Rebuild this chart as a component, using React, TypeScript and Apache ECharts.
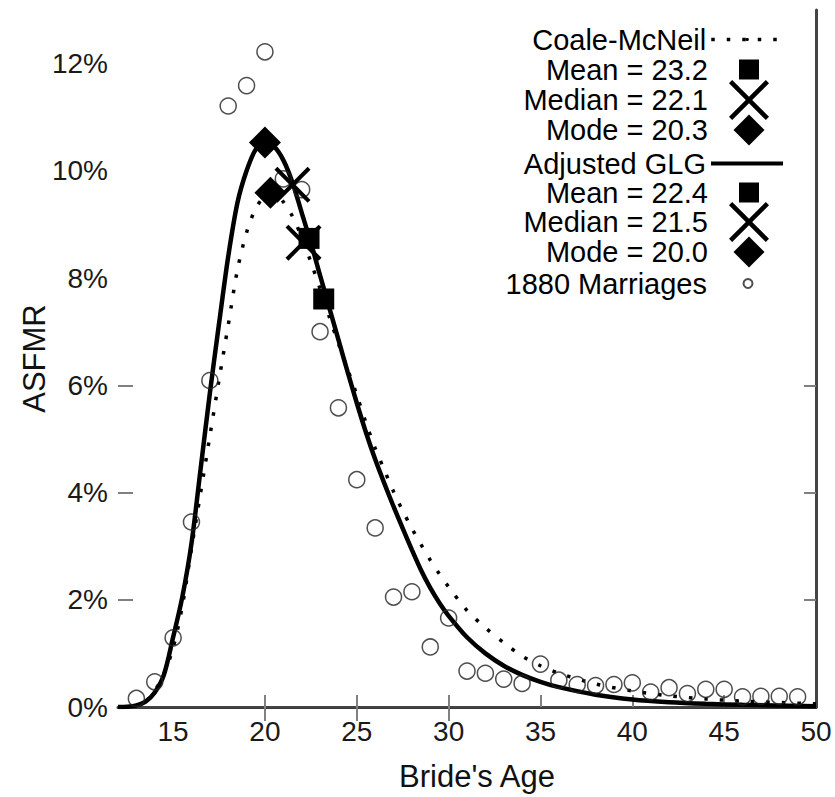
import React, { useEffect, useRef } from "react";
import * as echarts from "echarts";

// Coale-McNeil fitted curve (age, ASFMR %)
const cmAges = [12, 12.5, 13, 13.5, 14, 14.5, 15, 15.5, 16, 16.5, 17, 17.5, 18, 18.5, 19, 19.5, 20, 20.5, 21, 21.5, 22, 22.5, 23, 23.5, 24, 24.5, 25, 25.5, 26, 26.5, 27, 27.5, 28, 28.5, 29, 29.5, 30, 31, 32, 33, 34, 35, 36, 38, 40, 42, 44, 46, 50];
const cmValues = [0, 0.0, 0.02, 0.1, 0.3, 0.62, 1.1, 1.88, 2.95, 4.0, 5.05, 6.1, 7.12, 8.15, 8.85, 9.3, 9.53, 9.58, 9.42, 9.15, 8.76, 8.3, 7.8, 7.28, 6.78, 6.3, 5.82, 5.3, 4.83, 4.42, 4.02, 3.66, 3.33, 3.03, 2.74, 2.48, 2.24, 1.8, 1.48, 1.2, 0.95, 0.77, 0.63, 0.43, 0.3, 0.21, 0.15, 0.11, 0.06];

// Adjusted GLG fitted curve (age, ASFMR %)
const glgAges = [12, 12.5, 13, 13.5, 14, 14.5, 15, 15.5, 16, 16.5, 17, 17.5, 18, 18.5, 19, 19.5, 20, 20.5, 21, 21.5, 22, 22.5, 23, 23.5, 24, 24.5, 25, 25.5, 26, 26.5, 27, 27.5, 28, 28.5, 29, 29.5, 30, 31, 32, 33, 34, 35, 36, 38, 40, 42, 44, 46, 50];
const glgValues = [0, 0.005, 0.03, 0.1, 0.27, 0.6, 1.3, 2.05, 3.05, 4.45, 5.85, 7.15, 8.4, 9.4, 10.0, 10.4, 10.53, 10.45, 10.2, 9.78, 9.22, 8.66, 8.05, 7.45, 6.85, 6.25, 5.67, 5.12, 4.62, 4.17, 3.74, 3.33, 2.93, 2.55, 2.22, 1.94, 1.7, 1.3, 1.0, 0.77, 0.6, 0.47, 0.37, 0.23, 0.14, 0.09, 0.06, 0.04, 0.015];

// 1880 marriages, observed ASFMR (%) by single year of age
const obsAges = [13, 14, 15, 16, 17, 18, 19, 20, 21, 22, 23, 24, 25, 26, 27, 28, 29, 30, 31, 32, 33, 34, 35, 36, 37, 38, 39, 40, 41, 42, 43, 44, 45, 46, 47, 48, 49];
const obsValues = [0.16, 0.47, 1.29, 3.45, 6.09, 11.21, 11.59, 12.22, 9.85, 9.65, 7.0, 5.58, 4.24, 3.34, 2.05, 2.15, 1.12, 1.66, 0.67, 0.63, 0.52, 0.44, 0.8, 0.5, 0.42, 0.4, 0.42, 0.45, 0.28, 0.36, 0.25, 0.33, 0.33, 0.19, 0.2, 0.2, 0.19];

// Summary statistics: [mean, median, mode] ages and curve heights
const statNamesCM = ["Mean = 23.2", "Median = 22.1", "Mode = 20.3"];
const statAgesCM = [23.2, 22.1, 20.3];
const statValuesCM = [7.61, 8.66, 9.59];
const statNamesGLG = ["Mean = 22.4", "Median = 21.5", "Mode = 20.0"];
const statAgesGLG = [22.4, 21.5, 20.0];
const statValuesGLG = [8.74, 9.74, 10.53];

const xTickLabels = [15, 20, 25, 30, 35, 40, 45, 50];
const yTickLabels = [0, 2, 4, 6, 8, 10, 12];

const FONT = "'Liberation Sans', Arial, sans-serif";
const X_PATH = "path://M0,8L8,0L50,42L92,0L100,8L58,50L100,92L92,100L50,58L8,100L0,92L42,50Z";
const SQUARE_PATH = "path://M0,0L100,0L100,100L0,100Z";
const DIAMOND_PATH = "path://M50,0L100,50L50,100L0,50Z";
const statSymbols = [SQUARE_PATH, X_PATH, DIAMOND_PATH];
const statSizes = [21, 36, 32];

export default function App() {
  const ref = useRef<HTMLDivElement>(null);
  useEffect(() => {
    document.body.style.margin = "0";
    const chart = echarts.init(ref.current!, null, { renderer: "svg" });

    const statSeries = (names: string[], ages: number[], vals: number[]) =>
      names.map((n, i) => ({
        type: "scatter",
        name: n,
        data: [[ages[i], vals[i]]],
        symbol: statSymbols[i],
        symbolSize: statSizes[i],
        symbolKeepAspect: true,
        itemStyle: { color: "#000", opacity: 1 },
        z: 5,
        silent: true,
      }));

    // legend layout: icon box spans iconLeft .. iconLeft + itemW
    const iconLeft = 713;
    const itemW = 72;
    const textH = 28;
    // name, centre y, icon height, legend line width, isLine
    const legendRows: [string, number, number, number, boolean][] = [
      ["Coale-McNeil", 39, 4, 3.5, true],
      ["Mean = 23.2", 69, 20, 0, false],
      ["Median = 22.1", 100, 40, 0, false],
      ["Mode = 20.3", 130, 31, 0, false],
      ["Adjusted GLG", 163, 4, 4, true],
      ["Mean = 22.4", 192, 20, 0, false],
      ["Median = 21.5", 222, 40, 0, false],
      ["Mode = 20.0", 252, 31, 0, false],
      ["1880 Marriages", 283, 9, 0, false],
    ];
    const legends = legendRows.map(([name, cy, ih, lw, isLine]) => {
      const boxRight = isLine ? iconLeft + itemW : iconLeft + itemW / 2 + ih / 2;
      return {
        data: [name],
        orient: "vertical",
        align: "right",
        right: 835 - boxRight,
        top: cy - Math.max(ih, textH) / 2,
        itemWidth: itemW,
        itemHeight: ih,
        padding: 0,
        selectedMode: false,
        symbolKeepAspect: true,
        ...(lw > 0 ? { lineStyle: { width: lw } } : {}),
        textStyle: { fontSize: 29, lineHeight: textH, color: "#000", fontFamily: FONT },
      };
    });

    chart.setOption({
      animation: false,
      backgroundColor: "#fff",
      grid: { left: 118, right: 19, top: 10, bottom: 90 },
      legend: legends,
      xAxis: [
        {
          type: "value",
          min: 12,
          max: 50,
          position: "bottom",
          name: "Bride's Age",
          nameLocation: "middle",
          nameGap: 54,
          nameMoveOverlap: false,
          nameTextStyle: { fontSize: 31, color: "#111", fontFamily: FONT, padding: [0, 0, 0, 20] },
          axisLine: { show: true, lineStyle: { color: "#3a3a3a", width: 3 } },
          axisTick: { show: true, inside: true, length: 12, customValues: [20, 25, 30, 35, 40, 45], lineStyle: { color: "#808080", width: 2 } },
          axisLabel: { customValues: xTickLabels, fontSize: 28, color: "#1a1a1a", fontFamily: FONT, margin: 10 },
          splitLine: { show: false },
        },
        {
          type: "value",
          min: 12,
          max: 50,
          position: "top",
          axisLine: { show: true, lineStyle: { color: "#444", width: 2 } },
          axisTick: { show: true, inside: true, length: 14, customValues: [20, 25, 30], lineStyle: { color: "#808080", width: 2 } },
          axisLabel: { show: false },
          splitLine: { show: false },
        },
      ],
      yAxis: [
        {
          type: "value",
          min: 0,
          max: 13,
          position: "left",
          name: "ASFMR",
          nameLocation: "middle",
          nameGap: 68,
          nameMoveOverlap: false,
          nameRotate: 90,
          nameTextStyle: { fontSize: 31, color: "#111", fontFamily: FONT },
          axisLine: { show: false },
          axisTick: { show: true, inside: true, length: 15, customValues: [2, 4, 6], lineStyle: { color: "#808080", width: 2 } },
          axisLabel: { customValues: yTickLabels, formatter: "{value}%", fontSize: 28, color: "#1a1a1a", fontFamily: FONT, margin: 10 },
          splitLine: { show: false },
        },
        {
          type: "value",
          min: 0,
          max: 13,
          position: "right",
          axisLine: { show: true, lineStyle: { color: "#444", width: 3 } },
          axisTick: { show: true, inside: true, length: 12, customValues: [2, 4, 6], lineStyle: { color: "#808080", width: 2 } },
          axisLabel: { show: false },
          splitLine: { show: false },
        },
      ],
      series: [
        {
          type: "line",
          name: "Coale-McNeil",
          data: cmAges.map((a, i) => [a, cmValues[i]]),
          smooth: 0.3,
          symbol: "none",
          lineStyle: { color: "#000", width: 3.5, type: [3.5, 12] },
          itemStyle: { color: "#000" },
          z: 2,
          silent: true,
        },
        ...statSeries(statNamesCM, statAgesCM, statValuesCM),
        {
          type: "line",
          name: "Adjusted GLG",
          data: glgAges.map((a, i) => [a, glgValues[i]]),
          smooth: 0.3,
          symbol: "none",
          lineStyle: { color: "#000", width: 4.5 },
          itemStyle: { color: "#000" },
          z: 3,
          silent: true,
        },
        ...statSeries(statNamesGLG, statAgesGLG, statValuesGLG),
        {
          type: "scatter",
          name: "1880 Marriages",
          data: obsAges.map((a, i) => [a, obsValues[i]]),
          symbol: "circle",
          symbolSize: 16,
          itemStyle: { color: "rgba(0,0,0,0)", borderColor: "#222", borderWidth: 1.5 },
          z: 4,
          silent: true,
        },
      ],
    });
    return () => chart.dispose();
  }, []);
  return <div ref={ref} style={{ width: 835, height: 797 }} />;
}
